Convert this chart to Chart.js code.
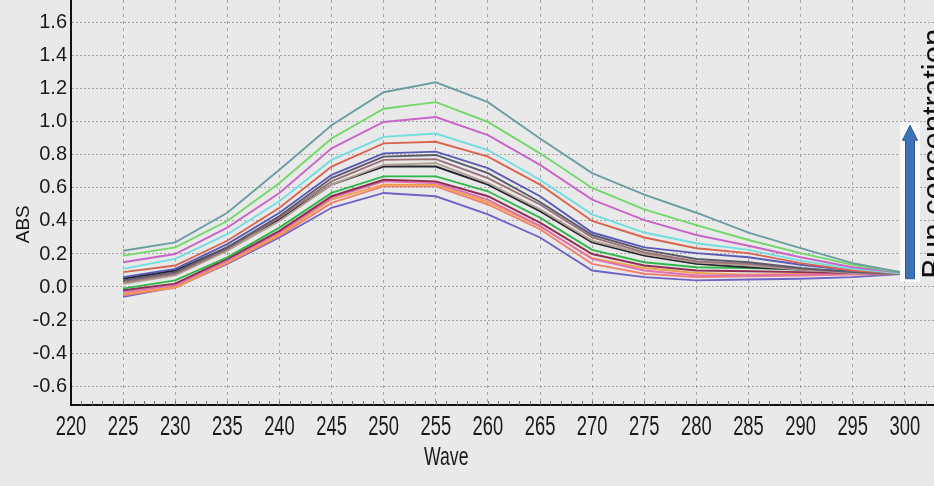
<!DOCTYPE html>
<html>
<head>
<meta charset="utf-8">
<title>ABS vs Wave</title>
<script src="https://cdn.jsdelivr.net/npm/chart.js@4.4.1/dist/chart.umd.min.js"></script>
<style>
  html, body { margin: 0; padding: 0; background: #e9e9e9; }
  #wrap { width: 934px; height: 486px; position: relative; }
</style>
</head>
<body>
<div id="wrap"><canvas id="absChart" width="934" height="486"></canvas></div>
<script>
// Wavelengths (nm) where every spectrum was sampled
const waves = [225, 230, 235, 240, 245, 250, 255, 260, 265, 270, 275, 280, 285, 290, 295, 300];

// Tick labels
const xTicks = [220, 225, 230, 235, 240, 245, 250, 255, 260, 265, 270, 275, 280, 285, 290, 295, 300];
const yTicks = [-0.6, -0.4, -0.2, 0.0, 0.2, 0.4, 0.6, 0.8, 1.0, 1.2, 1.4, 1.6];

// Absorbance spectra, highest concentration first
const teal    = [0.22, 0.27, 0.45, 0.71, 0.98, 1.18, 1.24, 1.12, 0.90, 0.69, 0.56, 0.45, 0.33, 0.235, 0.145, 0.085];
const green   = [0.19, 0.24, 0.40, 0.63, 0.90, 1.08, 1.12, 1.00, 0.81, 0.60, 0.47, 0.375, 0.285, 0.205, 0.135, 0.085];
const magenta = [0.15, 0.20, 0.36, 0.57, 0.84, 1.00, 1.03, 0.92, 0.74, 0.53, 0.405, 0.315, 0.25, 0.18, 0.12, 0.085];
const cyan    = [0.11, 0.17, 0.32, 0.52, 0.77, 0.91, 0.93, 0.83, 0.65, 0.44, 0.33, 0.265, 0.225, 0.16, 0.11, 0.08];
const red     = [0.09, 0.13, 0.28, 0.48, 0.73, 0.87, 0.88, 0.79, 0.62, 0.40, 0.30, 0.235, 0.205, 0.145, 0.10, 0.08];
const blue    = [0.06, 0.11, 0.26, 0.45, 0.68, 0.81, 0.82, 0.72, 0.55, 0.33, 0.24, 0.205, 0.18, 0.135, 0.10, 0.08];
const slate   = [0.04, 0.09, 0.24, 0.43, 0.66, 0.79, 0.80, 0.69, 0.515, 0.315, 0.225, 0.17, 0.15, 0.115, 0.09, 0.08];
const mauve   = [0.03, 0.08, 0.23, 0.42, 0.64, 0.77, 0.775, 0.66, 0.50, 0.30, 0.21, 0.155, 0.14, 0.11, 0.09, 0.08];
const tan     = [0.02, 0.07, 0.22, 0.40, 0.62, 0.74, 0.75, 0.63, 0.47, 0.28, 0.20, 0.15, 0.13, 0.105, 0.085, 0.08];
const black   = [0.05, 0.10, 0.24, 0.41, 0.62, 0.73, 0.73, 0.62, 0.46, 0.27, 0.19, 0.14, 0.12, 0.105, 0.095, 0.085];
const green2  = [-0.01, 0.04, 0.18, 0.36, 0.57, 0.67, 0.67, 0.58, 0.42, 0.225, 0.15, 0.12, 0.115, 0.105, 0.09, 0.08];
const maroon  = [-0.02, 0.02, 0.17, 0.34, 0.55, 0.65, 0.64, 0.55, 0.39, 0.20, 0.13, 0.10, 0.095, 0.09, 0.085, 0.08];
const pink    = [-0.03, 0.01, 0.16, 0.33, 0.54, 0.64, 0.63, 0.53, 0.37, 0.17, 0.10, 0.07, 0.07, 0.075, 0.08, 0.08];
const orange  = [-0.04, 0.00, 0.15, 0.32, 0.53, 0.62, 0.62, 0.515, 0.365, 0.175, 0.115, 0.085, 0.075, 0.08, 0.08, 0.08];
const salmon  = [-0.05, -0.005, 0.145, 0.31, 0.51, 0.61, 0.61, 0.50, 0.35, 0.14, 0.08, 0.06, 0.065, 0.07, 0.075, 0.08];
const purple  = [-0.06, 0.00, 0.14, 0.30, 0.48, 0.57, 0.55, 0.44, 0.30, 0.10, 0.06, 0.04, 0.045, 0.05, 0.06, 0.08];

const spectra = [teal, green, magenta, cyan, red, blue, slate, mauve, tan, black, green2, maroon, pink, orange, salmon, purple];
const lineColors = ['#6b9ea3', '#72d86a', '#c965c9', '#70dde0', '#d9654e', '#5a5ab8', '#5a5a6a', '#9c6f78',
                    '#b0a090', '#222230', '#2fb84a', '#8e2e52', '#df6fb6', '#f0a04a', '#f08070', '#6e64c8'];

const axisFont = "'Liberation Sans', Arial, sans-serif";

// draws text squeezed horizontally, like the condensed labels of the original
function squeezed(ctx, text, x, y, squeeze) {
  ctx.save();
  ctx.translate(x, y);
  ctx.scale(squeeze, 1);
  ctx.fillText(text, 0, 0);
  ctx.restore();
}

// Background, x labels, minor ticks, axis titles and the concentration arrow
const decorations = {
  id: 'decorations',
  beforeDraw(chart) {
    const ctx = chart.ctx;
    ctx.save();
    ctx.fillStyle = '#e9e9e9';
    ctx.fillRect(0, 0, chart.width, chart.height);
    ctx.restore();
  },
  afterDraw(chart) {
    const ctx = chart.ctx;
    const x = chart.scales.x;
    const y = chart.scales.y;
    const area = chart.chartArea;
    ctx.save();

    // minor ticks pointing into the plot
    ctx.strokeStyle = '#777';
    ctx.lineWidth = 1;
    for (let v = xTicks[0] + 1; v <= x.max; v++) {
      const px = Math.round(x.getPixelForValue(v)) + 0.5;
      ctx.beginPath();
      ctx.moveTo(px, area.bottom);
      ctx.lineTo(px, area.bottom - 4);
      ctx.stroke();
    }

    // x tick labels
    ctx.fillStyle = '#1a1a1a';
    ctx.font = "27px " + axisFont;
    ctx.textAlign = 'center';
    ctx.textBaseline = 'alphabetic';
    xTicks.forEach(v => squeezed(ctx, String(v), x.getPixelForValue(v), area.bottom + 30, 0.68));

    // axis titles
    ctx.font = "26px " + axisFont;
    squeezed(ctx, 'Wave', x.getPixelForValue(256), 465, 0.68);

    ctx.font = "19px " + axisFont;
    ctx.textBaseline = 'middle';
    ctx.save();
    ctx.translate(24, y.getPixelForValue(0.38));
    ctx.rotate(-Math.PI / 2);
    ctx.fillText('ABS', 0, 0);
    ctx.restore();

    // arrow showing rising Bun concentration
    const ax = x.getPixelForValue(300.5);
    const yTop = y.getPixelForValue(0.98);
    const yBot = y.getPixelForValue(0.05);
    ctx.fillStyle = '#fafafa';
    ctx.fillRect(ax - 10, yTop - 3, 20, yBot - yTop + 6);
    ctx.fillStyle = '#3f72b4';
    ctx.strokeStyle = '#2d5a94';
    ctx.lineWidth = 1;
    ctx.beginPath();
    ctx.moveTo(ax - 4.5, yBot);
    ctx.lineTo(ax - 4.5, yTop + 15);
    ctx.lineTo(ax - 7.5, yTop + 15);
    ctx.lineTo(ax, yTop);
    ctx.lineTo(ax + 7.5, yTop + 15);
    ctx.lineTo(ax + 4.5, yTop + 15);
    ctx.lineTo(ax + 4.5, yBot);
    ctx.closePath();
    ctx.fill();
    ctx.stroke();

    ctx.fillStyle = '#111';
    ctx.font = "31px " + axisFont;
    ctx.textAlign = 'left';
    ctx.textBaseline = 'alphabetic';
    ctx.translate(ax + 34, yBot);
    ctx.rotate(-Math.PI / 2);
    ctx.fillText('Bun concentration', 0, 0);
    ctx.restore();
  }
};

new Chart(document.getElementById('absChart'), {
  type: 'line',
  data: {
    datasets: spectra.map((s, i) => ({
      label: 'S' + (i + 1),
      data: waves.map((w, j) => ({ x: w, y: s[j] })),
      borderColor: lineColors[i],
      borderWidth: 1.9,
      pointRadius: 0,
      tension: 0,
      fill: false
    }))
  },
  options: {
    responsive: false,
    animation: false,
    layout: { padding: 0 },
    plugins: {
      legend: { display: false },
      tooltip: { enabled: false }
    },
    scales: {
      x: {
        type: 'linear',
        min: 220,
        max: 302.8,
        afterBuildTicks: s => { s.ticks = xTicks.map(v => ({ value: v })); },
        afterFit: s => { s.height = 81; s.paddingLeft = 0; s.paddingRight = 0; },
        ticks: { display: false },
        grid: { color: '#a4a4a4', lineWidth: 1, drawTicks: false },
        border: { display: true, color: '#111', width: 2, dash: [3, 4] }
      },
      y: {
        type: 'linear',
        min: -0.715,
        max: 1.739,
        afterBuildTicks: s => { s.ticks = yTicks.map(v => ({ value: v })); },
        afterFit: s => { s.width = 71; s.paddingTop = 0; s.paddingBottom = 0; },
        ticks: {
          color: '#1a1a1a',
          font: { family: axisFont, size: 20 },
          padding: 4,
          callback: v => v.toFixed(1)
        },
        grid: { color: '#a4a4a4', lineWidth: 1, drawTicks: false },
        border: { display: true, color: '#111', width: 2, dash: [2, 2] }
      }
    }
  },
  plugins: [decorations]
});
</script>
</body>
</html>
